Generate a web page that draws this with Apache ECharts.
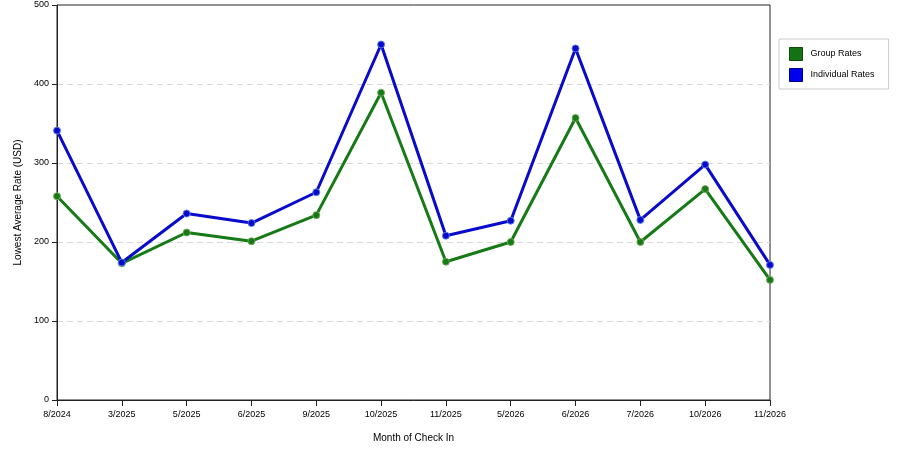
<!DOCTYPE html>
<html>
<head>
<meta charset="utf-8">
<script src="https://cdn.jsdelivr.net/npm/echarts@6/dist/echarts.min.js"></script>
<style>
  html, body { margin: 0; padding: 0; background: #fff; }
  #main { width: 900px; height: 450px; }
</style>
</head>
<body>
<div id="main"></div>
<script>
// months on the x axis
var months = ['8/2024', '3/2025', '5/2025', '6/2025', '9/2025', '10/2025',
  '11/2025', '5/2026', '6/2026', '7/2026', '10/2026', '11/2026'];
// lowest average rates, USD
var groupRates = [258, 173, 212, 201, 234, 389, 175, 200, 357, 200, 267, 152];
var individualRates = [341, 174, 236, 224, 263, 450, 208, 227, 445, 228, 298, 171];

var font = 'Liberation Sans';
var myChart = echarts.init(document.getElementById('main'));
var option = {
  animation: false,
  grid: {
    left: 57, right: 130, top: 5, bottom: 50,
    show: true, borderColor: '#222', borderWidth: 1
  },
  legend: {
    orient: 'vertical',
    left: 779, top: 39,
    padding: [8, 14, 7, 10],
    itemWidth: 13, itemHeight: 13, itemGap: 7,
    borderColor: '#ccc', borderWidth: 1,
    icon: 'rect',
    textStyle: { fontFamily: font, fontSize: 9, color: '#000', padding: [0, 0, 0, 3] },
    data: [
      { name: 'Group Rates', itemStyle: { color: '#137313', borderColor: '#0b4f0b', borderWidth: 1 } },
      { name: 'Individual Rates', itemStyle: { color: '#0000ee', borderColor: '#00008a', borderWidth: 1 } }
    ]
  },
  xAxis: {
    type: 'category',
    data: months,
    boundaryGap: false,
    name: 'Month of Check In',
    nameLocation: 'middle',
    nameGap: 33,
    nameTextStyle: { fontFamily: font, fontSize: 10, color: '#000' },
    axisLine: { lineStyle: { color: '#222', width: 1 } },
    axisTick: { length: 6, lineStyle: { color: '#222' } },
    axisLabel: { fontFamily: font, fontSize: 9, color: '#000', margin: 10, interval: 0 },
    splitLine: { show: false }
  },
  yAxis: {
    type: 'value',
    min: 0, max: 500, interval: 100,
    name: 'Lowest Average Rate (USD)',
    nameLocation: 'middle',
    nameGap: 33,
    nameTextStyle: { fontFamily: font, fontSize: 10, color: '#000' },
    axisLine: { show: true, lineStyle: { color: '#222', width: 1 } },
    axisTick: { show: true, length: 5, lineStyle: { color: '#222' } },
    axisLabel: { fontFamily: font, fontSize: 9, color: '#000', margin: 8 },
    splitLine: {
      show: true, showMaxLine: false, showMinLine: false,
      lineStyle: { color: '#d8d8d8', type: [6, 4] }
    }
  },
  series: [
    {
      name: 'Group Rates',
      type: 'line',
      data: groupRates,
      symbol: 'circle',
      symbolSize: 7,
      lineStyle: { color: '#167a16', width: 3 },
      itemStyle: { color: '#167a16', borderColor: 'rgba(120,170,90,0.9)', borderWidth: 1 },
      z: 2
    },
    {
      name: 'Individual Rates',
      type: 'line',
      data: individualRates,
      symbol: 'circle',
      symbolSize: 7,
      lineStyle: { color: '#0a0acc', width: 3 },
      itemStyle: { color: '#0a0acc', borderColor: 'rgba(90,130,230,0.9)', borderWidth: 1 },
      z: 3
    }
  ]
};
myChart.setOption(option);
window.addEventListener('resize', function() {
  myChart.resize();
});
</script>
</body>
</html>
